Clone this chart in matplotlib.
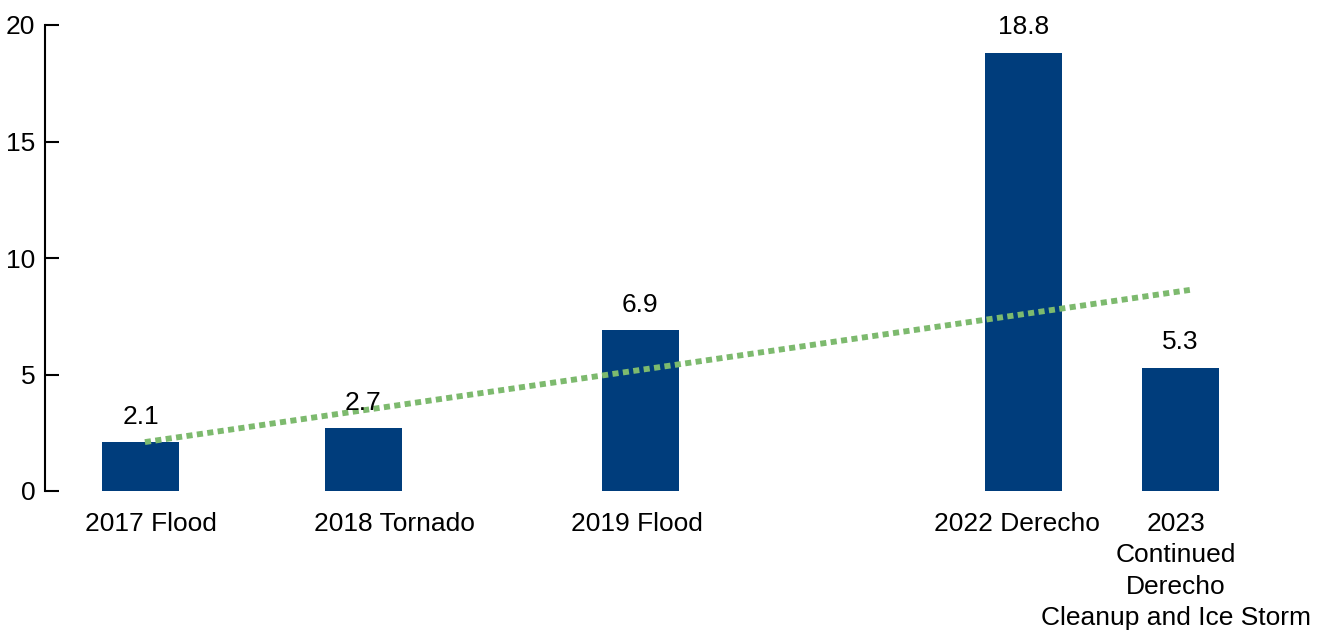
import matplotlib
matplotlib.use("Agg")
import matplotlib.pyplot as plt

categories = ["2017 Flood", "2018 Tornado", "2019 Flood", "2022 Derecho",
              "2023\nContinued\nDerecho\nCleanup and Ice Storm"]
positions = [0.0, 1.0, 2.242, 3.960, 4.664]
label_positions = [0.045, 1.137, 2.226, 3.930, 4.643]
values = [2.1, 2.7, 6.9, 18.8, 5.3]
value_labels = ["2.1", "2.7", "6.9", "18.8", "5.3"]
trend_x = [0.02, 4.706]
trend_y = [2.1, 8.63]
yticks = [0, 5, 10, 15, 20]

plt.rcParams['font.family'] = ['Liberation Sans', 'DejaVu Sans']

fig = plt.figure(figsize=(13.23, 6.35), dpi=100)
ax = fig.add_axes([45/1323, (635-491)/635, (1300-45)/1323, (491-25)/635])

ax.bar(positions, values, width=0.345, color="#003D7C", zorder=2)
ax.plot(trend_x, trend_y, color="#7DBA6E", linewidth=4.2, linestyle=(0, (1.05, 0.75)),
        dash_capstyle='butt', zorder=3)

for x, v, lab in zip(positions, values, value_labels):
    ax.annotate(lab, (x, v), xytext=(0, 13.3), textcoords='offset points',
                ha='center', va='baseline', fontsize=19, color='black')

ax.set_xlim(-0.428, 5.2)
ax.set_ylim(0, 20)
ax.set_yticks(yticks)
ax.set_yticklabels([str(t) for t in yticks], fontsize=19)
ax.tick_params(axis='y', direction='in', length=10, width=1.5, pad=7)
ax.set_xticks(label_positions)
ax.set_xticklabels(categories, fontsize=19, linespacing=1.39)
ax.tick_params(axis='x', length=0, pad=15)

for s in ['top', 'right', 'bottom']:
    ax.spines[s].set_visible(False)
ax.spines['left'].set_linewidth(1.5)

fig.savefig("out.png", dpi=100)
